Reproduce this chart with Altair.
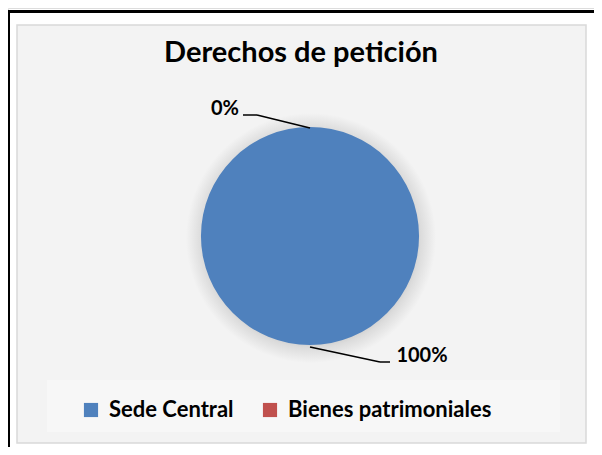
import altair as alt
import pandas as pd

categories = ["Sede Central", "Bienes patrimoniales"]
values = [100, 0]
labels = ["100%", "0%"]
colors = ["#4F81BD", "#C0504D"]
title_text = "Derechos de petición"

FONT = "Lato"
W, H = 586, 439
CX, CY, R = 302, 228, 109

df = pd.DataFrame({"category": categories, "value": values, "label": labels,
                   "order": [0, 1]})
one = pd.DataFrame({"a": [0]})

def rect(x, x2, y, y2, fill, stroke=None, sw=0):
    kw = dict(fill=fill)
    if stroke:
        kw.update(stroke=stroke, strokeWidth=sw)
    return alt.Chart(one).mark_rect(**kw).encode(
        x=alt.value(x), x2=alt.value(x2), y=alt.value(y), y2=alt.value(y2))

frame_top = rect(0, W, 2, 5, "black")
frame_left = rect(0, 2, 2, H, "black")
inner = rect(9, 578, 17, 435, "#f3f3f3", "#d9d9d9", 1.5)
legend_bg = rect(39, 552, 372, 424, "#f7f7f7")

shadow = alt.Chart(one).mark_arc(
    outerRadius=R + 16,
    fill=alt.RadialGradient(gradient="radial",
                            stops=[alt.GradientStop(offset=0.80, color="#c4c4c4"),
                                   alt.GradientStop(offset=0.88, color="#dcdcdc"),
                                   alt.GradientStop(offset=1.0, color="#f3f3f3")]),
).encode(theta=alt.value(6.2832), x=alt.value(CX + 1), y=alt.value(CY + 2))

pie = alt.Chart(df).mark_arc(outerRadius=R).encode(
    theta=alt.Theta("value:Q", stack=True),
    order=alt.Order("order:Q"),
    color=alt.Color("category:N",
                    scale=alt.Scale(domain=categories, range=colors),
                    legend=alt.Legend(title=None, orient="none", direction="horizontal",
                                      legendX=72, legendY=391,
                                      symbolType="square", symbolSize=200,
                                      symbolStrokeWidth=0, labelFont=FONT,
                                      labelFontSize=22, labelFontWeight="bold",
                                      labelColor="black", labelOffset=7,
                                      columnPadding=25, labelLimit=400)),
    x=alt.value(CX), y=alt.value(CY),
)

def seg(x, y, x2, y2):
    return alt.Chart(one).mark_rule(color="black", strokeWidth=1.5).encode(
        x=alt.value(x), y=alt.value(y), x2=alt.value(x2), y2=alt.value(y2))

leaders = [seg(235, 107, 249, 107), seg(249, 107, 302, 120),
           seg(302, 339, 372, 354), seg(372, 354, 382, 354)]

lab0 = alt.Chart(df[df["category"] == categories[1]]).mark_text(
    font=FONT, fontSize=20, fontWeight="bold", color="black", align="center",
    baseline="alphabetic").encode(text="label:N", x=alt.value(217), y=alt.value(107))
lab1 = alt.Chart(df[df["category"] == categories[0]]).mark_text(
    font=FONT, fontSize=20, fontWeight="bold", color="black", align="center",
    baseline="alphabetic").encode(text="label:N", x=alt.value(414), y=alt.value(354))

title = alt.Chart(one).mark_text(
    font=FONT, fontSize=29, fontWeight="bold", color="black", align="center",
    baseline="alphabetic").encode(text=alt.value(title_text), x=alt.value(293), y=alt.value(54))

chart = alt.layer(frame_top, frame_left, inner, legend_bg, shadow, pie,
                  *leaders, lab0, lab1, title).properties(
    width=W, height=H, autosize=alt.AutoSizeParams(type="none"), padding=0
).configure_view(stroke=None).configure(background="white")

chart.save("out.html", embed_options={"renderer": "svg", "actions": False})
